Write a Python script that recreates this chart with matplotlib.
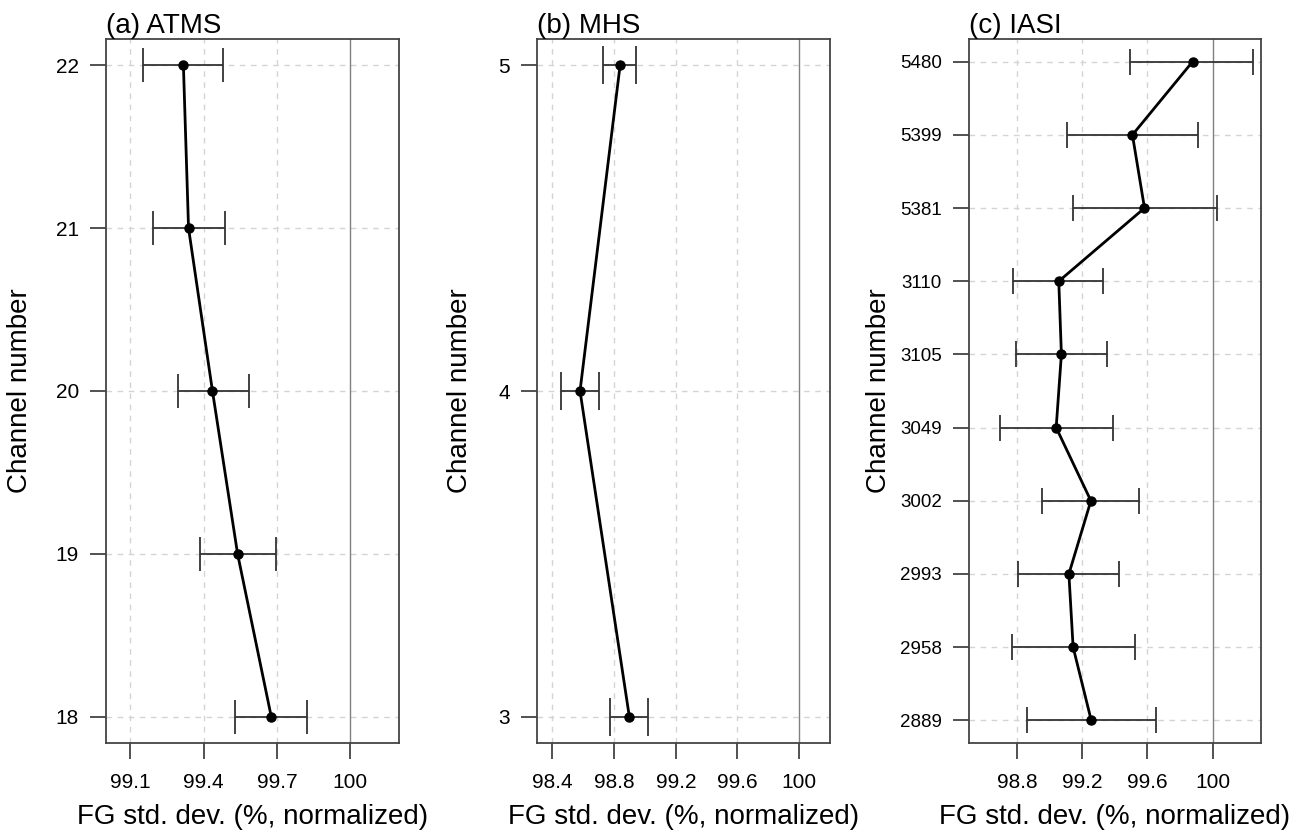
import numpy as np
import matplotlib
matplotlib.use("Agg")
import matplotlib.pyplot as plt

plt.rcParams['font.family'] = ['Liberation Sans', 'DejaVu Sans']

# (a) ATMS
atms_ch = [18, 19, 20, 21, 22]
atms_mean = [99.677, 99.539, 99.436, 99.338, 99.317]
atms_lo = [99.529, 99.386, 99.296, 99.192, 99.153]
atms_hi = [99.825, 99.695, 99.587, 99.488, 99.478]
atms_xticks = [99.1, 99.4, 99.7, 100]

# (b) MHS
mhs_ch = [3, 4, 5]
mhs_mean = [98.899, 98.579, 98.839]
mhs_lo = [98.774, 98.456, 98.731]
mhs_hi = [99.022, 98.705, 98.945]
mhs_xticks = [98.4, 98.8, 99.2, 99.6, 100]

# (c) IASI
iasi_ch = ['2889', '2958', '2993', '3002', '3049', '3105', '3110', '5381', '5399', '5480']
iasi_mean = [99.255, 99.144, 99.118, 99.253, 99.040, 99.072, 99.056, 99.582, 99.508, 99.877]
iasi_lo = [98.860, 98.769, 98.806, 98.956, 98.694, 98.796, 98.774, 99.144, 99.107, 99.496]
iasi_hi = [99.652, 99.525, 99.425, 99.550, 99.390, 99.349, 99.330, 100.025, 99.912, 100.248]
iasi_xticks = [98.8, 99.2, 99.6, 100]

W, H = 1308, 836
fig = plt.figure(figsize=(W / 100, H / 100), dpi=100)


def px_axes(x0, x1, y0, y1):
    return fig.add_axes([x0 / W, 1 - y1 / H, (x1 - x0) / W, (y1 - y0) / H])


def fmt(v):
    return '%g' % v


def panel(ax, title, y, yl, mean, lo, hi, xticks, xlim, ylim, cap, ytick_fs, ylab_x):
    mean = np.array(mean)
    err = [mean - np.array(lo), np.array(hi) - mean]
    ax.set_axisbelow(True)
    for xt in xticks:
        if xt == 100:
            ax.axvline(xt, color='#808080', lw=1.0, zorder=1)
        else:
            ax.axvline(xt, color='#d4d4d4', lw=1.0, ls=(0, (4, 4)), zorder=0)
    for yt in y:
        ax.axhline(yt, color='#d4d4d4', lw=1.0, ls=(0, (4, 4)), zorder=0)
    ax.errorbar(mean, y, xerr=err, fmt='none', ecolor='#333333', elinewidth=1.3,
                capsize=cap, capthick=1.3, zorder=2)
    ax.plot(mean, y, color='black', lw=2.0, marker='o', ms=6.5, zorder=3)
    ax.set_xlim(*xlim)
    ax.set_ylim(*ylim)
    ax.set_xticks(xticks)
    ax.set_xticklabels([fmt(v) for v in xticks], fontsize=15)
    ax.set_yticks(y)
    ax.set_yticklabels(yl, fontsize=ytick_fs)
    ax.tick_params(direction='out', length=11.5, width=1.2, color='#333333')
    ax.tick_params(axis='x', pad=10)
    ax.tick_params(axis='y', pad=8)
    for s in ax.spines.values():
        s.set_color('#444444')
        s.set_linewidth(1.3)
    ax.set_title(title, loc='left', fontsize=20, pad=2)
    ax.set_xlabel('FG std. dev. (%, normalized)', fontsize=20, labelpad=9)
    ax.set_ylabel('Channel number', fontsize=20)
    ax.yaxis.set_label_coords(ylab_x, 0.5)


ax1 = px_axes(106, 399, 39, 743)
panel(ax1, '(a) ATMS', atms_ch, [str(c) for c in atms_ch], atms_mean, atms_lo, atms_hi,
      atms_xticks, (99.0, 100.2), (17.84, 22.16), 12.5, 15, -0.25)

ax2 = px_axes(537, 830, 39, 743)
panel(ax2, '(b) MHS', mhs_ch, [str(c) for c in mhs_ch], mhs_mean, mhs_lo, mhs_hi,
      mhs_xticks, (98.3, 100.2), (2.92, 5.08), 14, 15, -0.218)

ax3 = px_axes(969, 1261, 39, 743)
ypos = np.arange(1, len(iasi_ch) + 1)
panel(ax3, '(c) IASI', ypos, iasi_ch, iasi_mean, iasi_lo, iasi_hi,
      iasi_xticks, (98.505, 100.297), (0.69, 10.31), 9.5, 13.5, -0.264)

fig.savefig('out.png', dpi=100)
